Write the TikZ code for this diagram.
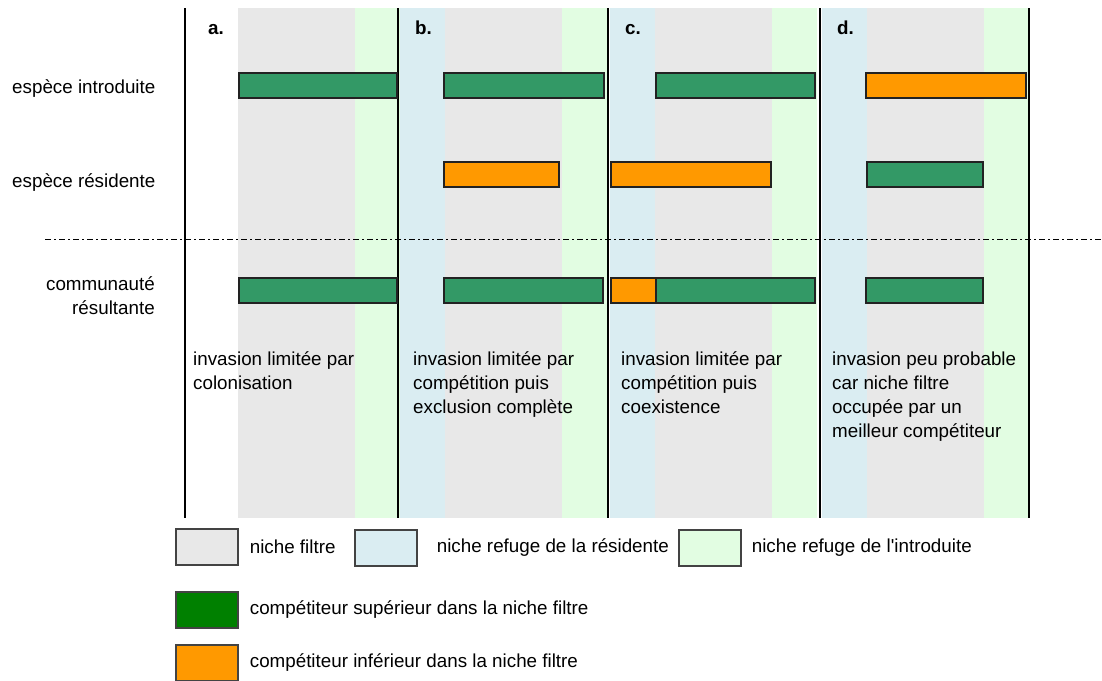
\documentclass[tikz,border=0pt]{standalone}
\usepackage{fontspec}
\setmainfont{Liberation Sans}
\usepackage{tikz}
\usetikzlibrary{positioning}
\definecolor{filtre}{HTML}{E8E8E8}
\definecolor{refres}{HTML}{DAEDF2}
\definecolor{refint}{HTML}{E2FDE2}
\definecolor{supbar}{HTML}{339966}
\definecolor{supkey}{HTML}{008000}
\definecolor{infbar}{HTML}{FF9900}
\definecolor{trait}{HTML}{222222}

\begin{document}
\begin{tikzpicture}[x=1pt,y=-1pt,
   txt/.style={font=\fontsize{18.8}{24}\selectfont,inner sep=0pt,align=left},
   bar/.style={draw=trait,line width=1.3pt,fill=#1},
   key/.style={draw=trait!85,line width=1.3pt,fill=#1,minimum width=62pt,minimum height=36pt,inner sep=0pt}]
  \useasboundingbox (0,0) rectangle (1102,680);
  % niches of each panel
  \foreach \p/\lt [count=\i] in {191/a,398/b,608/c,820/d}{
     \ifnum\i>1 \fill[refres] (\p+2,8) rectangle (\p+47,518); \fi
     \fill[filtre] (\p+47,8) rectangle (\p+164,518);
     \fill[refint] (\p+164,8) rectangle (\p+209,518);
     \node[txt,anchor=base west] (lab\lt) at (\p+17,34) {\bfseries\lt.};}
  \foreach \x in {185,398,608,820,1029}
     \draw[line width=1.4pt] (\x,8) -- (\x,518);
  \draw[line width=0.9pt,dash pattern=on 6pt off 3pt on 2pt off 3pt] (45,239) -- (1102,239);
  % species bars
  \foreach \xa/\xb/\y/\c in {239/397/73/supbar,444/604/73/supbar,656/815/73/supbar,866/1026/73/infbar,
     444/559/162/infbar,611/771/162/infbar,867/983/162/supbar,
     239/397/278/supbar,444/603/278/supbar,611/656/278/infbar,656/815/278/supbar,866/983/278/supbar}
     \draw[bar=\c] (\xa,\y) rectangle (\xb,\y+25);
  \node[txt,anchor=base west] (intro) at (12,93) {espèce introduite};
  \node[txt,anchor=base west] (resid) at (12,187) {espèce résidente};
  \node[txt,anchor=base east,align=right] (commu) at (155,314) {communauté\\résultante};
  % outcomes (base = last line)
  \node[txt,anchor=base west] (ta) at (193,389) {invasion limitée par\\colonisation};
  \node[txt,anchor=base west] (tb) at (413,413) {invasion limitée par\\compétition puis\\exclusion complète};
  \node[txt,anchor=base west] (tc) at (621,413) {invasion limitée par\\compétition puis\\coexistence};
  \node[txt,anchor=base west] (td) at (832,437) {invasion peu probable\\car niche filtre\\occupée par un\\meilleur compétiteur};
  % legend
  \node[key=filtre] (kfil) at (207,547) {};
  \node[txt,right=11pt of kfil] (tfil) {niche filtre};
  \node[key=refres] (kres) at (386,548) {};
  \node[txt,right=19pt of kres] (tres) {niche refuge de la résidente};
  \node[key=refint] (kint) at (710,548) {};
  \node[txt,right=10pt of kint] (tint) {niche refuge de l\textquotesingle introduite};
  \node[key=supkey] (ksup) at (207,610) {};
  \node[txt,right=11pt of ksup] (tsup) {compétiteur supérieur dans la niche filtre};
  \node[key=infbar] (kinf) at (207,663) {};
  \node[txt,right=11pt of kinf] (tinf) {compétiteur inférieur dans la niche filtre};
\end{tikzpicture}
\end{document}
